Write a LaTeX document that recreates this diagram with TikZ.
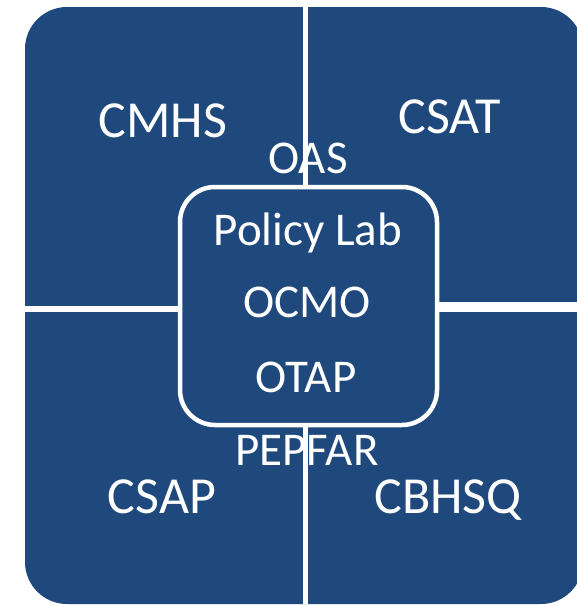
\documentclass[tikz,border=0pt]{standalone}
\usepackage{fontspec}
\setmainfont{Carlito}
\definecolor{samblue}{RGB}{31,73,125}

\begin{document}
\begin{tikzpicture}[x=1pt,y=-1pt,
    outlbl/.style={text=white, inner sep=0pt, anchor=base, font=\fontsize{52}{60}\selectfont},
    inlbl/.style={text=white, inner sep=0pt, anchor=base, font=\fontsize{47}{54}\selectfont}]

\useasboundingbox (0,0) rectangle (577,605);
\clip (0,0) rectangle (577,605);

\coordinate (nw) at (25,7);
\coordinate (se) at (583,604);

\fill [samblue, rounded corners=42pt] (nw) rectangle (se);

\coordinate (vtop) at (305.3,7);
\coordinate (vbot) at (305.3,604);
\coordinate (hleft) at (25,309);
\coordinate (hlmid) at (240,309);
\coordinate (hrmid) at (380,307);
\coordinate (hright) at (583,307);

\draw [white, line width=4.5pt] (vtop) -- (vbot);
\draw [white, line width=6pt] (hleft) -- (hlmid);
\draw [white, line width=10pt] (hrmid) -- (hright);

\node (hub) [draw=white, line width=4.5pt, fill=samblue, rounded corners=35pt,
    minimum width=257pt, minimum height=238pt, inner sep=0pt] at (308.5,306) {};

\foreach \name/\x/\y/\txt in {cmhs/163/137/CMHS, csat/450/133/CSAT,
                              csap/162/513/CSAP, cbhsq/448/513/CBHSQ}
    \node [outlbl] (\name) at (\x,\y) {\txt};

\foreach \name/\x/\y/\txt in {oas/308/173/OAS, policy/308/245/Policy Lab,
                              ocmo/307/317/OCMO, otap/306/392/OTAP,
                              pepfar/307/465/PEPFAR}
    \node [inlbl] (\name) at (\x,\y) {\txt};

\end{tikzpicture}
\end{document}
